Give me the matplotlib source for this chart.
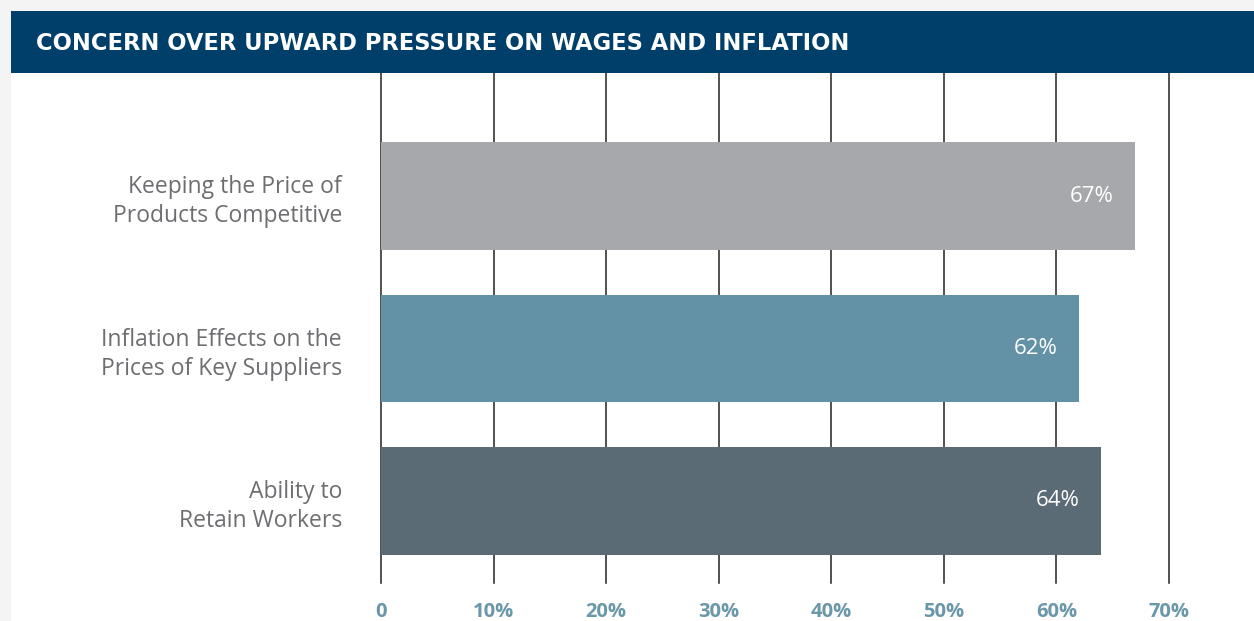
import matplotlib.pyplot as plt
from matplotlib.patches import Rectangle

# survey data
categories = ["Keeping the Price of\nProducts Competitive",
              "Inflation Effects on the\nPrices of Key Suppliers",
              "Ability to\nRetain Workers"]
values = [67, 62, 64]
bar_colors = ["#a7a8ab", "#6391a5", "#5b6b76"]
ticks = [0, 10, 20, 30, 40, 50, 60, 70]
tick_labels = ["0", "10%", "20%", "30%", "40%", "50%", "60%", "70%"]
title = "CONCERN OVER UPWARD PRESSURE ON WAGES AND INFLATION"

W, H = 1254, 621
fig = plt.figure(figsize=(W / 100, H / 100), dpi=100, facecolor="#f4f4f4")

# white card and dark blue header band
fig.patches.append(Rectangle((11 / W, 0), 1 - 11 / W, 1 - 11 / H, transform=fig.transFigure,
                             facecolor="white", edgecolor="none", zorder=-2))
fig.patches.append(Rectangle((11 / W, 1 - 73 / H), 1 - 11 / W, 62 / H, transform=fig.transFigure,
                             facecolor="#003f6a", edgecolor="none", zorder=-1))
fig.text(36 / W, 1 - 43 / H, title, color="white", fontsize=16.3, fontweight="bold",
         family="DejaVu Sans", va="center", ha="left")

ax = fig.add_axes([381 / W, 1 - 583 / H, (1169 - 381) / W, (583 - 73) / H])
ax.set_facecolor("none")

y = list(range(len(categories)))
ax.barh(y, values, height=0.708, color=bar_colors, zorder=2)
for yi, v in zip(y, values):
    ax.text(v - 1.9, yi, f"{v}%", color="white", fontsize=16,
            family="Open Sans", ha="right", va="center", zorder=3)

for t in ticks:
    ax.axvline(t, color="#222222", lw=1.1, zorder=1, clip_on=False)

ax.set_xlim(0, 70)
ax.set_ylim(2.538, -0.807)
ax.set_xticks(ticks)
ax.set_xticklabels(tick_labels, color="#6a97a9", fontsize=14.5, fontweight="bold", family="Open Sans")
ax.set_yticks(y)
ax.set_yticklabels(categories, color="#6d6e71", fontsize=16.5, family="Open Sans",
                   linespacing=1.3, ha="right")
ax.tick_params(axis="x", length=0, pad=14)
ax.tick_params(axis="y", length=0, pad=28)
for s in ax.spines.values():
    s.set_visible(False)

fig.savefig("out.png", dpi=100, facecolor=fig.get_facecolor())
